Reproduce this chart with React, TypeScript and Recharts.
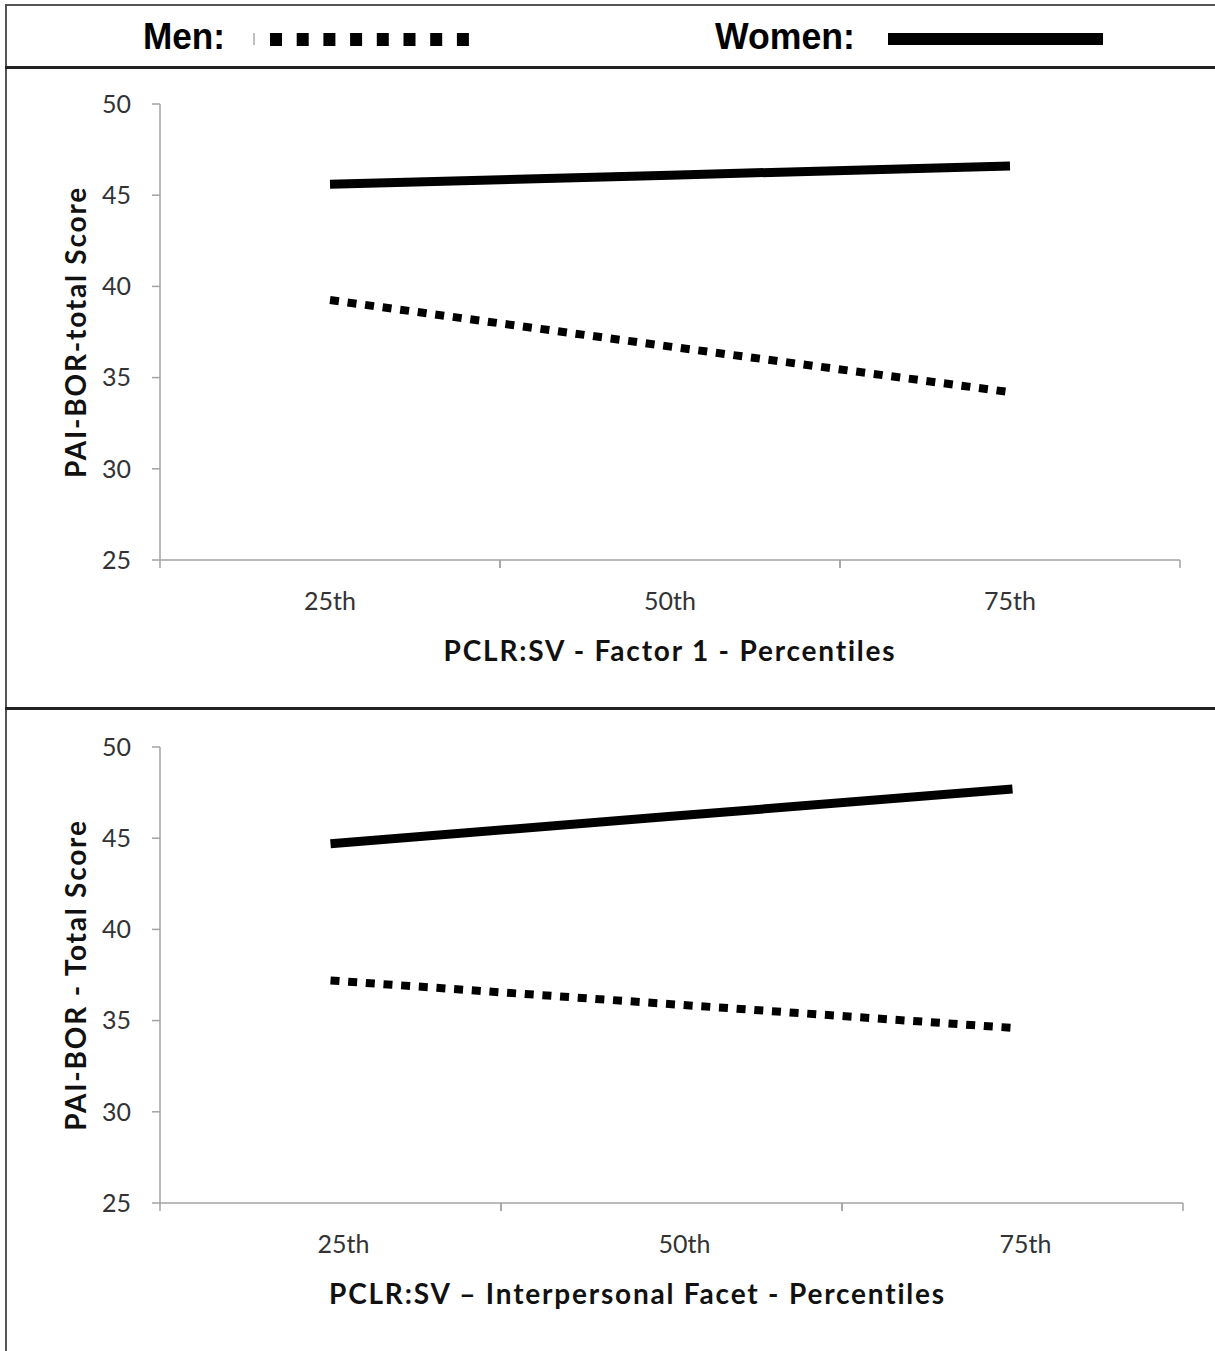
import { LineChart, Line, XAxis, YAxis, Label } from "recharts";

const categories = ["25th", "50th", "75th"];
const menFactor1 = [39.25, 36.7, 34.2];
const womenFactor1 = [45.6, 46.1, 46.6];
const menFacet = [37.2, 35.9, 34.6];
const womenFacet = [44.7, 46.2, 47.7];
const yTicks = [25, 30, 35, 40, 45, 50];

const factor1Data = categories.map((c, i) => ({
  name: c,
  men: menFactor1[i],
  women: womenFactor1[i],
}));
const facetData = categories.map((c, i) => ({
  name: c,
  men: menFacet[i],
  women: womenFacet[i],
}));

const AXIS = "#a3a3a3";
const TITLE_FONT = "Lato, 'Open Sans', sans-serif";

function XTick(props: any) {
  const { x, y, payload, labelDx = 0 } = props;
  const half = payload?.offset ?? 0;
  return (
    <g>
      <line x1={x - half} x2={x - half} y1={y} y2={y + 8} stroke={AXIS} strokeWidth={1.5} />
      <line x1={x + half} x2={x + half} y1={y} y2={y + 8} stroke={AXIS} strokeWidth={1.5} />
      <text
        x={x + labelDx}
        y={y + 40}
        textAnchor="middle"
        dominantBaseline="central"
        fontSize={25}
        fill="#333"
        fontFamily={TITLE_FONT}
      >
        {payload.value}
      </text>
    </g>
  );
}

const yTitle = (text: string) => (props: any) => {
  const vb = props.viewBox;
  const cx = vb.x + 15;
  const cy = vb.y + vb.height / 2;
  return (
    <text
      x={cx}
      y={cy}
      transform={`rotate(-90 ${cx} ${cy})`}
      textAnchor="middle"
      dominantBaseline="central"
      fontSize={28}
      fontWeight="bold"
      letterSpacing={1.8}
      fill="#111"
      fontFamily={TITLE_FONT}
    >
      {text}
    </text>
  );
};

const xTitle = (text: string, dx: number) => (props: any) => {
  const vb = props.viewBox;
  return (
    <text
      x={vb.x + vb.width / 2 + dx}
      y={vb.y + 90}
      textAnchor="middle"
      dominantBaseline="central"
      fontSize={28}
      fontWeight="bold"
      letterSpacing={1.8}
      fill="#111"
      fontFamily={TITLE_FONT}
    >
      {text}
    </text>
  );
};

function Panel({
  data,
  yLabel,
  xLabel,
  xLabelDx,
  tickDx,
  height,
  marginTop,
  marginRight,
}: {
  data: { name: string; men: number; women: number }[];
  yLabel: string;
  xLabel: string;
  xLabelDx: number;
  tickDx: number;
  height: number;
  marginTop: number;
  marginRight: number;
}) {
  return (
    <LineChart
      width={1215}
      height={height}
      data={data}
      margin={{ top: marginTop, right: marginRight, bottom: 48, left: 60 }}
    >
      <XAxis
        dataKey="name"
        scale="band"
        height={100}
        axisLine={{ stroke: AXIS, strokeWidth: 1.5 }}
        tickLine={false}
        tickSize={0}
        tickMargin={0}
        tick={<XTick labelDx={tickDx} />}
        interval={0}
      >
        <Label content={xTitle(xLabel, xLabelDx)} />
      </XAxis>
      <YAxis
        width={100}
        domain={[25, 50]}
        ticks={yTicks}
        interval={0}
        axisLine={{ stroke: AXIS, strokeWidth: 1.5 }}
        tickLine={{ stroke: AXIS, strokeWidth: 1.5 }}
        tickSize={8}
        tickMargin={21}
        tick={{ fontSize: 25, fill: "#333", fontFamily: TITLE_FONT }}
      >
        <Label content={yTitle(yLabel)} />
      </YAxis>
      <Line
        type="linear"
        dataKey="women"
        stroke="#000"
        strokeWidth={9}
        dot={false}
        isAnimationActive={false}
      />
      <Line
        type="linear"
        dataKey="men"
        stroke="#000"
        strokeWidth={8}
        strokeDasharray="9 8.7"
        dot={false}
        isAnimationActive={false}
      />
    </LineChart>
  );
}

export default function App() {
  const legendFont = "'Liberation Sans', Arial, sans-serif";
  return (
    <div
      style={{
        position: "fixed",
        left: 0,
        top: 0,
        width: 1215,
        height: 1351,
        overflow: "hidden",
        background: "#fff",
      }}
    >
      <div
        style={{
          position: "absolute",
          left: 5,
          top: 4,
          width: 1300,
          height: 1400,
          border: "2px solid #555",
        }}
      />
      <div style={{ position: "absolute", left: 5, top: 66, width: 1215, height: 3, background: "#222" }} />
      <div style={{ position: "absolute", left: 5, top: 707, width: 1215, height: 3, background: "#222" }} />

      <svg style={{ position: "absolute", left: 0, top: 0 }} width={1215} height={66}>
        <text
          x={143}
          y={49}
          fontSize={36}
          fontWeight="bold"
          fontFamily={legendFont}
          fill="#000"
          textLength={82}
          lengthAdjust="spacingAndGlyphs"
        >
          Men:
        </text>
        <line x1={254} x2={254} y1={33} y2={45} stroke="#aaa" strokeWidth={1.5} />
        <line x1={270} x2={470} y1={39.5} y2={39.5} stroke="#000" strokeWidth={13} strokeDasharray="12 14.7" />
        <text
          x={715}
          y={49}
          fontSize={36}
          fontWeight="bold"
          fontFamily={legendFont}
          fill="#000"
          textLength={140}
          lengthAdjust="spacingAndGlyphs"
        >
          Women:
        </text>
        <line x1={888} x2={1103} y1={39} y2={39} stroke="#000" strokeWidth={12} />
      </svg>

      <div style={{ position: "absolute", left: 0, top: 69 }}>
        <Panel
          data={factor1Data}
          yLabel="PAI-BOR-total Score"
          xLabel="PCLR:SV - Factor 1 - Percentiles"
          xLabelDx={0}
          tickDx={0}
          height={639}
          marginTop={35}
          marginRight={35}
        />
      </div>
      <div style={{ position: "absolute", left: 0, top: 710 }}>
        <Panel
          data={facetData}
          yLabel="PAI-BOR - Total Score"
          xLabel="PCLR:SV – Interpersonal Facet - Percentiles"
          xLabelDx={-34}
          tickDx={13}
          height={641}
          marginTop={37}
          marginRight={32}
        />
      </div>
    </div>
  );
}
